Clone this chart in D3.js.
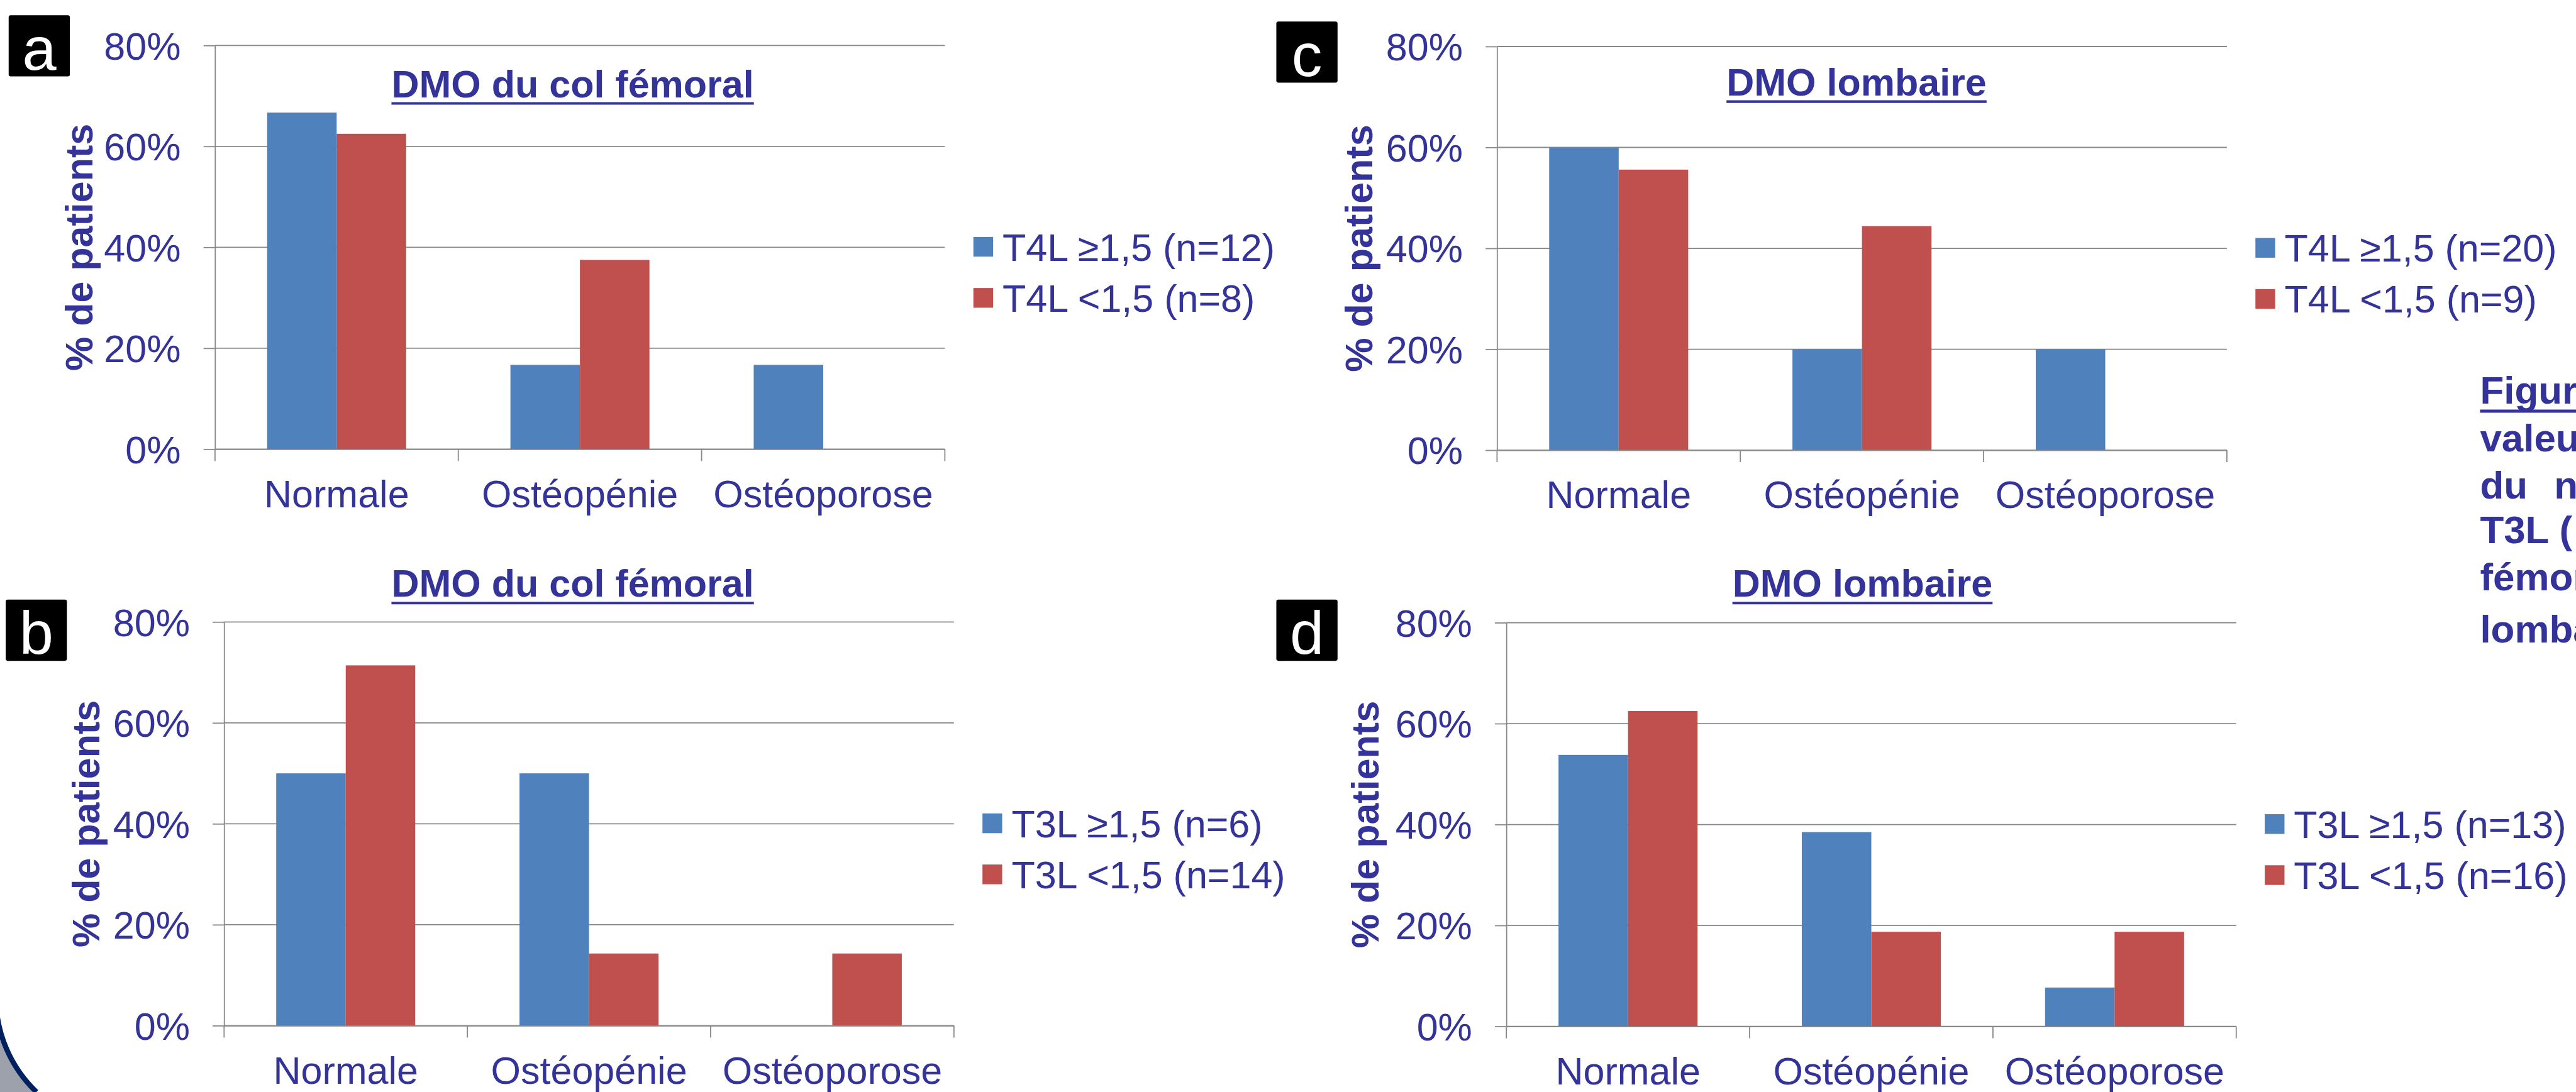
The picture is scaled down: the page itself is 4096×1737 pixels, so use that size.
<!DOCTYPE html>
<html>
<head>
<meta charset="utf-8">
<script src="https://cdn.jsdelivr.net/npm/d3@7"></script>
<style>
  html, body { margin: 0; padding: 0; background: #ffffff; overflow: hidden; }
  svg { display: block; }
</style>
</head>
<body>
<svg id="chart" width="4096" height="1737"></svg>
<script>
// ---------------- DATA ----------------
const categories = ["Normale", "Ostéopénie", "Ostéoporose"];
const yTickValues = [0, 0.2, 0.4, 0.6, 0.8];

const panelLetters = ["a", "c", "b", "d"];
const panelTitles = ["DMO du col fémoral", "DMO lombaire", "DMO du col fémoral", "DMO lombaire"];
const yAxisTitle = "% de patients";

// panel a : T4L, col fémoral
const seriesA_high = [0.667, 0.167, 0.167];
const seriesA_low  = [0.625, 0.375, 0.0];
const legendA = ["T4L ≥1,5 (n=12)", "T4L <1,5 (n=8)"];
// panel c : T4L, lombaire
const seriesC_high = [0.600, 0.200, 0.200];
const seriesC_low  = [0.556, 0.444, 0.0];
const legendC = ["T4L ≥1,5 (n=20)", "T4L <1,5 (n=9)"];
// panel b : T3L, col fémoral
const seriesB_high = [0.500, 0.500, 0.0];
const seriesB_low  = [0.714, 0.143, 0.143];
const legendB = ["T3L ≥1,5 (n=6)", "T3L <1,5 (n=14)"];
// panel d : T3L, lombaire
const seriesD_high = [0.538, 0.385, 0.077];
const seriesD_low  = [0.625, 0.1875, 0.1875];
const legendD = ["T3L ≥1,5 (n=13)", "T3L <1,5 (n=16)"];

const captionLines = ["Figur", "valeu", "du", "T3L (", "fémor", "lomba"];
const captionExtra = "n";

// ---------------- STYLE / LAYOUT ----------------
const S = 4096 / 4966;
const FONT = "'Liberation Sans', Arial, Helvetica, sans-serif";
const TEXT = "#333399";
const GRID = "#898989";
const COLORS = ["#4F81BD", "#C0504D"];
const FS = 74;

const panels = [
  {x0: 414.5, y80: 87.7,   titleX: 1104,   titleY: 187.5, boxX: 16.7,   boxY: 29.3,   yTitleX: 178,  high: seriesA_high, low: seriesA_low, legend: legendA},
  {x0: 2886,  y80: 89.7,   titleX: 3579,   titleY: 184,   boxX: 2460.5, boxY: 41.5,   yTitleX: 2645, high: seriesC_high, low: seriesC_low, legend: legendC},
  {x0: 432,   y80: 1199.5, titleX: 1104,   titleY: 1151,  boxX: 11,     boxY: 1156.4, yTitleX: 191,  high: seriesB_high, low: seriesB_low, legend: legendB},
  {x0: 2904,  y80: 1200.9, titleX: 3590.5, titleY: 1151,  boxX: 2460.5, boxY: 1156.4, yTitleX: 2657, high: seriesD_high, low: seriesD_low, legend: legendD}
];
const W = 1407, H = 778.5;

const svg = d3.select("#chart");
svg.append("rect").attr("width", 4096).attr("height", 1737).attr("fill", "#ffffff");
const root = svg.append("g").attr("transform", `scale(${S})`);

// decorative slide corner (bottom-left)
const cornerArc = "M -8 1923 A 253 253 0 0 0 70.3 2106";
root.append("path").attr("d", cornerArc + " L -8 2106 Z").attr("fill", "#9DA1AC");
root.append("path").attr("d", cornerArc).attr("fill", "none").attr("stroke", "#002060").attr("stroke-width", 10);

panels.forEach((p, i) => {
  const g = root.append("g");
  const y0 = p.y80 + H;
  const x = d3.scaleBand().domain(categories).range([p.x0, p.x0 + W]).padding(0);
  const xs = d3.scaleBand().domain([0, 1]).range([0, x.bandwidth()]).paddingInner(0).paddingOuter(0.75);
  const y = d3.scaleLinear().domain([0, 0.8]).range([y0, p.y80]);

  // gridlines
  g.append("g").selectAll("line").data(yTickValues).join("line")
    .attr("x1", p.x0).attr("x2", p.x0 + W)
    .attr("y1", d => y(d)).attr("y2", d => y(d))
    .attr("stroke", GRID).attr("stroke-width", 2.2);

  // bars
  const series = [p.high, p.low];
  series.forEach((vals, s) => {
    g.append("g").selectAll("rect").data(vals).join("rect")
      .attr("x", (d, k) => x(categories[k]) + xs(s))
      .attr("width", xs.bandwidth())
      .attr("y", d => y(d))
      .attr("height", d => y(0) - y(d))
      .attr("fill", COLORS[s]);
  });

  // y axis
  const yAxis = d3.axisLeft(y).tickValues(yTickValues).tickFormat(d3.format(".0%"))
    .tickSize(22).tickSizeOuter(0).tickPadding(44);
  const ya = g.append("g").attr("transform", `translate(${p.x0},0)`).call(yAxis);
  ya.attr("font-family", FONT).attr("font-size", FS);
  ya.select(".domain").attr("stroke", GRID).attr("stroke-width", 2.2);
  ya.selectAll(".tick line").attr("stroke", GRID).attr("stroke-width", 2.2);
  ya.selectAll(".tick text").attr("fill", TEXT).attr("dy", "0.36em");

  // x axis (labels)
  const xAxis = d3.axisBottom(x).tickSize(0).tickSizeOuter(0);
  const xa = g.append("g").attr("transform", `translate(0,${y0})`).call(xAxis);
  xa.attr("font-family", FONT).attr("font-size", FS);
  xa.select(".domain").attr("stroke", GRID).attr("stroke-width", 2.2);
  xa.selectAll(".tick text").attr("fill", TEXT).attr("dy", null).attr("y", 112);

  // category boundary ticks
  const bounds = categories.map(c => x(c)).concat([p.x0 + W]);
  g.append("g").selectAll("line").data(bounds).join("line")
    .attr("x1", d => d).attr("x2", d => d)
    .attr("y1", y0).attr("y2", y0 + 23)
    .attr("stroke", GRID).attr("stroke-width", 2.2);

  // y axis title
  g.append("text")
    .attr("transform", `translate(${p.yTitleX},${(p.y80 + y0) / 2}) rotate(-90)`)
    .attr("text-anchor", "middle")
    .attr("font-family", FONT).attr("font-size", FS).attr("font-weight", "bold")
    .attr("fill", TEXT).text(yAxisTitle);

  // chart title with underline
  const t = g.append("text")
    .attr("x", p.titleX).attr("y", p.titleY)
    .attr("text-anchor", "middle")
    .attr("font-family", FONT).attr("font-size", FS).attr("font-weight", "bold")
    .attr("fill", TEXT).text(panelTitles[i]);
  const tl = t.node().getComputedTextLength();
  g.append("line")
    .attr("x1", p.titleX - tl / 2).attr("x2", p.titleX + tl / 2)
    .attr("y1", p.titleY + 12).attr("y2", p.titleY + 12)
    .attr("stroke", TEXT).attr("stroke-width", 5);

  // legend
  const lx = p.x0 + W + 55;
  const ly = (p.y80 + y0) / 2 - 1;
  const leg = g.append("g");
  p.legend.forEach((lab, s) => {
    const cy = ly + s * 98.5;
    leg.append("rect").attr("x", lx).attr("y", cy - 19).attr("width", 38).attr("height", 38).attr("fill", COLORS[s]);
    leg.append("text").attr("x", lx + 56).attr("y", cy).attr("dy", "0.36em")
      .attr("font-family", FONT).attr("font-size", FS).attr("fill", TEXT).text(lab);
  });

  // panel letter box
  g.append("rect").attr("x", p.boxX).attr("y", p.boxY).attr("width", 118).attr("height", 118)
    .attr("rx", 4).attr("fill", "#000000");
  g.append("text").attr("x", p.boxX + 59).attr("y", p.boxY + 118 - 13)
    .attr("text-anchor", "middle")
    .attr("font-family", FONT).attr("font-size", 118).attr("fill", "#ffffff")
    .text(panelLetters[i]);
});

// caption text at right edge (cut off in the original)
const capX = 4781;
const capY = [778, 870, 962, 1048, 1138, 1239];
const cap = root.append("g").attr("font-family", FONT).attr("font-size", 75)
  .attr("font-weight", "bold").attr("fill", TEXT);
captionLines.forEach((s, k) => {
  cap.append("text").attr("x", capX).attr("y", capY[k]).text(s);
});
cap.append("text").attr("x", 4924).attr("y", capY[2]).text(captionExtra);
root.append("line").attr("x1", capX).attr("x2", 4966).attr("y1", 793).attr("y2", 793)
  .attr("stroke", TEXT).attr("stroke-width", 6);
</script>
</body>
</html>
